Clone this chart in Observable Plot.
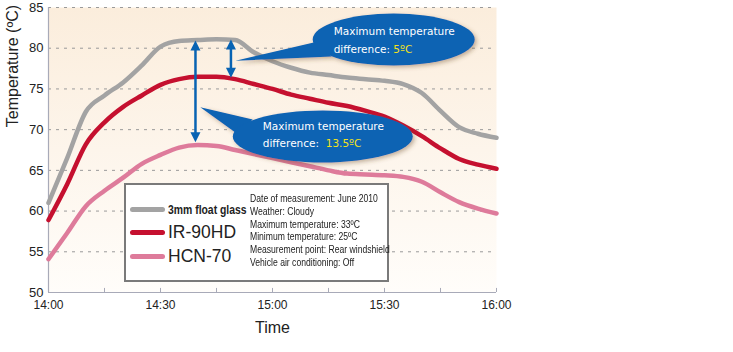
<!DOCTYPE html>
<html><head><meta charset="utf-8">
<script src="https://cdn.jsdelivr.net/npm/d3@7"></script>
<script src="https://cdn.jsdelivr.net/npm/@observablehq/plot@0.6"></script>
<style>
body{margin:0;background:#fff;font-family:"Liberation Sans",Arial,sans-serif;}
#wrap{position:relative;width:733px;height:352px;}
#legend{position:absolute;left:124px;top:183px;width:261px;height:95px;border:2px solid #7a7a7a;background:#fff;}
.sw{position:absolute;left:4px;width:35px;height:5px;border-radius:3px;}
.lab{position:absolute;left:42px;white-space:nowrap;color:#222;}
.cond{position:absolute;left:124px;top:7px;font-family:"Liberation Sans",Arial,sans-serif;font-size:10.5px;line-height:12.8px;color:#222;white-space:nowrap;transform:scaleX(0.82);transform-origin:0 0;}
</style></head><body><div id="wrap"></div>
<script>
// ---- data ----
const minutes = [0,5,10,15,20,25,30,35,40,45,50,55,60,65,70,75,80,85,90,95,100,105,110,115,120];
const floatGlass = [61.0,66.5,72.2,74.2,75.8,77.9,80.2,80.9,81.0,81.1,81.0,79.5,78.4,77.6,77.0,76.7,76.4,76.2,76.0,75.6,74.5,72.3,70.3,69.5,69.0];
const ir90hd = [58.9,63.3,68.2,70.9,72.8,74.2,75.5,76.2,76.5,76.5,76.2,75.6,75.0,74.3,73.8,73.3,72.9,72.3,71.6,70.5,69.2,67.7,66.4,65.7,65.2];
const hcn70 = [54.1,57.3,60.6,62.5,64.1,65.8,66.9,67.8,68.1,68.0,67.5,67.0,66.5,66.0,65.5,65.0,64.6,64.5,64.4,64.2,63.6,62.3,61.1,60.3,59.7];
const seriesNames = ["3mm float glass","IR-90HD","HCN-70"];
const seriesColors = ["#a3a3a3","#c5102f","#de7b9b"];
const yTicks = [50,55,60,65,70,75,80,85];
const gridTicks = [55,60,65,70,75,80,85];
const xTickMinutes = [0,15,30,45,60,75,90,105,120];
const xTickLabels = ["14:00","","14:30","","15:00","","15:30","","16:00"];
const conditions = ["Date of measurement: June 2010","Weather: Cloudy","Maximum temperature: 33ºC","Minimum temperature: 25ºC","Measurement point: Rear windshield","Vehicle air conditioning: Off"];
// arrows: at minute, from max of top series to max of lower series
const arrowMinutes = [39.5, 49];
const arrowTop = [80.9, 81.0];
const arrowBottom = [68.4, 76.3];
// callouts: ellipse centre (minute, value), tail tip (minute, value), text
const calloutLine1 = ["Maximum temperature","Maximum temperature"];
const calloutLine2 = ["difference: ","difference:  "];
const calloutValue = ["5ºC","13.5ºC"];
const calloutCx = [92.6, 73.6];
const calloutCy = [81.0, 69.1];
const calloutTipX = [50.2, 40.8];
const calloutTipY = [78.4, 72.7];

const rows = [];
[floatGlass, ir90hd, hcn70].forEach((arr, s) => arr.forEach((v, i) => rows.push({series: seriesNames[s], t: minutes[i], v})));

function annotations(index, scales) {
  const {x, y} = scales;
  const g = d3.create("svg:g");
  const defs = g.append("defs");
  const f = defs.append("filter").attr("id", "shadow").attr("x", "-20%").attr("y", "-30%").attr("width", "150%").attr("height", "170%");
  f.append("feDropShadow").attr("dx", 2).attr("dy", 2).attr("stdDeviation", 2).attr("flood-color", "#6b4a2a").attr("flood-opacity", 0.4);
  const blue = "#0863b3";
  // arrows
  arrowMinutes.forEach((m, i) => {
    const px = x(m), y1 = y(arrowTop[i]), y2 = y(arrowBottom[i]);
    g.append("line").attr("x1", px).attr("x2", px).attr("y1", y1 + 6).attr("y2", y2 - 6).attr("stroke", blue).attr("stroke-width", 2.5);
    g.append("path").attr("d", `M${px},${y1}L${px-5},${y1+10}L${px+5},${y1+10}Z`).attr("fill", blue);
    g.append("path").attr("d", `M${px},${y2}L${px-5},${y2-10}L${px+5},${y2-10}Z`).attr("fill", blue);
  });
  // callouts
  const rx = [81, 90], ry = [26, 26];
  const base = [[[-80, 3], [-62, 17]], [[-70, -17], [-86, -3]]];
  const textOff = [[-60, -5, 13], [-60, -6, 11]];
  calloutCx.forEach((cxv, i) => {
    const cx = x(cxv), cy = y(calloutCy[i]);
    const tx = x(calloutTipX[i]), ty = y(calloutTipY[i]);
    const grp = g.append("g").attr("filter", "url(#shadow)");
    grp.append("path").attr("d", `M${tx},${ty}L${cx+base[i][0][0]},${cy+base[i][0][1]}L${cx+base[i][1][0]},${cy+base[i][1][1]}Z`).attr("fill", blue);
    grp.append("ellipse").attr("cx", cx).attr("cy", cy).attr("rx", rx[i]).attr("ry", ry[i]).attr("fill", blue);
    const t = g.append("g").attr("font-family", "DejaVu Sans, Verdana, sans-serif").attr("font-size", 10.5).attr("fill", "#fff").attr("text-anchor", "start");
    t.append("text").attr("x", cx + textOff[i][0]).attr("y", cy + textOff[i][1]).attr("text-anchor", "start").text(calloutLine1[i]);
    const t2 = t.append("text").attr("x", cx + textOff[i][0]).attr("y", cy + textOff[i][2]).attr("text-anchor", "start").style("white-space", "pre");
    t2.append("tspan").text(calloutLine2[i]);
    t2.append("tspan").attr("fill", "#f3e21c").text(calloutValue[i]);
  });
  return g.node();
}

const chart = Plot.plot({
  width: 733, height: 352,
  marginLeft: 48, marginRight: 237, marginTop: 7, marginBottom: 60,
  style: {background: "transparent", fontFamily: "Liberation Sans, Arial, sans-serif", overflow: "visible"},
  x: {domain: [0, 120]},
  y: {domain: [50, 85]},
  color: {domain: seriesNames, range: seriesColors},
  marks: [
    Plot.frame({fill: "url(#bgGrad)", stroke: null}),
    Plot.ruleY(gridTicks, {stroke: "#9a9a9a", strokeWidth: 1, strokeDasharray: "3,5"}),
    Plot.ruleX([0], {stroke: "#a8aab8", strokeWidth: 1.2}),
    Plot.ruleY([50], {stroke: "#a8aab8", strokeWidth: 1.2}),
    Plot.ruleX(xTickMinutes, {y1: 50, y2: 50.5, stroke: "#a8aab8", strokeWidth: 1}),
    Plot.axisY(yTicks, {tickSize: 0, tickPadding: 5, fontSize: 13, label: null, color: "#222"}),
    Plot.axisX(xTickMinutes, {tickSize: 0, tickPadding: 8, fontSize: 12, label: null, color: "#222", tickFormat: (d) => xTickLabels[xTickMinutes.indexOf(d)]}),
    Plot.line(rows, {x: "t", y: "v", z: "series", stroke: "series", strokeWidth: 4.5, curve: "monotone-x"}),
    annotations,
    Plot.text(["Temperature (ºC)"], {frameAnchor: "left", y: 70.3, dx: -36, rotate: -90, fontSize: 16, fill: "#222"}),
    Plot.text(["Time"], {frameAnchor: "bottom", x: 60, dy: 40, fontSize: 16, fill: "#222"})
  ]
});

// gradient for plot background
const defs = d3.select(chart).insert("defs", ":first-child");
const lg = defs.append("linearGradient").attr("id", "bgGrad").attr("x1", 0).attr("y1", 0).attr("x2", 0).attr("y2", 1);
lg.append("stop").attr("offset", "0%").attr("stop-color", "#fbeddc");
lg.append("stop").attr("offset", "100%").attr("stop-color", "#fffdfa");

const wrap = document.getElementById("wrap");
wrap.appendChild(chart);

// legend box
const legend = document.createElement("div");
legend.id = "legend";
const rowTop = [24, 47, 71];
const labStyle = [
  "font-weight:bold;font-size:13px;transform:translateY(-50%) scaleX(0.8);transform-origin:0 50%;",
  "font-size:17.5px;transform:translateY(-50%);",
  "font-size:17.5px;transform:translateY(-50%);"
];
seriesNames.forEach((n, i) => {
  const sw = document.createElement("div");
  sw.className = "sw";
  sw.style.top = (rowTop[i] - 2.5) + "px";
  sw.style.background = seriesColors[i];
  legend.appendChild(sw);
  const lab = document.createElement("div");
  lab.className = "lab";
  lab.setAttribute("style", labStyle[i] + "top:" + (rowTop[i]) + "px;");
  lab.textContent = n;
  legend.appendChild(lab);
});
const cond = document.createElement("div");
cond.className = "cond";
cond.innerHTML = conditions.map(c => `<div>${c}</div>`).join("");
legend.appendChild(cond);
wrap.appendChild(legend);
</script>
</body></html>
